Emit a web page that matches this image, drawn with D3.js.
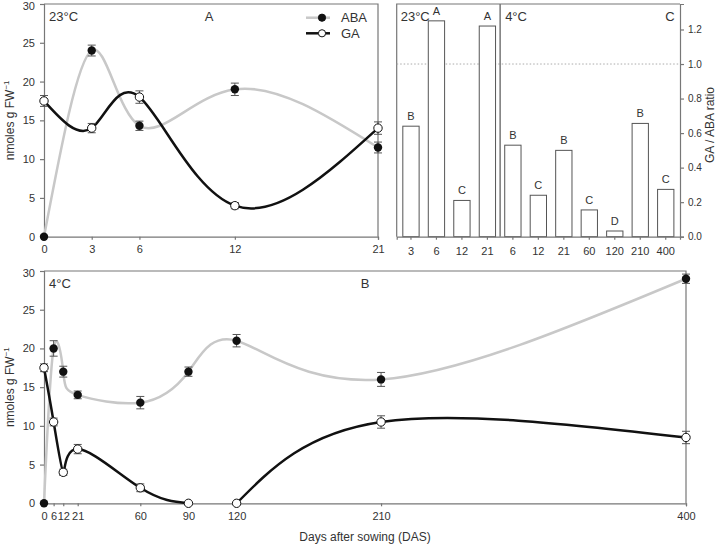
<!DOCTYPE html>
<html><head><meta charset="utf-8">
<script src="https://cdn.jsdelivr.net/npm/d3@7/dist/d3.min.js"></script>
<style>
body{margin:0;background:#fff;}
text{font-family:"Liberation Sans",Arial,sans-serif;fill:#333;}
</style></head>
<body><svg id="c" width="719" height="547"></svg>
<script>
// Panel A (23°C)
const daysA = [0, 3, 6, 12, 21];
const abaA = [0, 24, 14.3, 19, 11.5];
const abaAErr = [0, 0.7, 0.6, 0.8, 0.7];
const gaA = [17.5, 14, 18, 4, 14];
const gaAErr = [0.7, 0.6, 0.8, 0.4, 0.8];
const ticksA = [0, 3, 6, 12, 21];

// Panel B (4°C)
const daysB = [0, 6, 12, 21, 60, 90, 120, 210, 400];
const abaB = [0, 20, 17, 14, 13, 17, 21, 16, 29];
const abaBErr = [0, 1.0, 0.7, 0.5, 0.8, 0.6, 0.8, 0.9, 0.6];
const gaB = [17.5, 10.5, 4, 7, 2, 0, 0, 10.5, 8.5];
const gaBErr = [0.5, 0.5, 0.4, 0.6, 0.5, 0, 0, 0.8, 0.8];
const gaBSegments = [[0, 5], [6, 8]]; // index ranges of GA line pieces
const ticksB = [0, 6, 12, 21, 60, 90, 120, 210, 400];
const yTicksNmol = [0, 5, 10, 15, 20, 25, 30];

// Panel C (GA/ABA ratio)
const ratioCats = ["3", "6", "12", "21", "6 ", "12 ", "21 ", "60", "120", "210", "400"];
const ratioVals = [0.64, 1.25, 0.21, 1.22, 0.53, 0.24, 0.50, 0.155, 0.033, 0.656, 0.274];
const ratioLetters = ["B", "A", "C", "A", "B", "C", "B", "C", "D", "B", "C"];
const ratioTicks = [0, 0.2, 0.4, 0.6, 0.8, 1.0, 1.2];

const svg = d3.select("#c");
const axisCol = "#777", greyLine = "#c8c8c8";

function lineChart(g, o) {
  const x = d3.scaleLinear().domain(o.xdom).range(o.xr);
  const y = d3.scaleLinear().domain([0, 30]).range(o.yr);
  // frame top/right
  g.append("path").attr("d", `M${o.xr[0]},${o.yr[1]}H${o.xr[1]}V${o.yr[0]}`)
    .attr("fill", "none").attr("stroke", axisCol).attr("stroke-width", 1.2);
  const ax = g.append("g").attr("transform", `translate(0,${o.yr[0]})`)
    .call(d3.axisBottom(x).tickValues(o.xt).tickSize(3).tickPadding(6).tickFormat(d3.format("d")));
  const ay = g.append("g").attr("transform", `translate(${o.xr[0]},0)`)
    .call(d3.axisLeft(y).tickValues(yTicksNmol).tickSize(4).tickPadding(5));
  [ax, ay].forEach(a => {
    a.selectAll("path,line").attr("stroke", axisCol).attr("stroke-width", 1.2);
    a.selectAll("text").attr("font-size", 11).style("fill", "#333").attr("font-family", "Liberation Sans, Arial, sans-serif");
  });
  ay.selectAll(".tick").filter(d => d === 30).select("text").attr("dy", "0.5em");
  const line = d3.line().x(d => x(d[0])).y(d => y(d[1])).curve(d3.curveNatural);
  const abaPts = o.days.map((d, i) => [d, o.aba[i]]);
  g.append("path").attr("d", line(abaPts)).attr("fill", "none").attr("stroke", greyLine).attr("stroke-width", 2.5);
  o.gaSeg.forEach(s => {
    const pts = o.days.slice(s[0], s[1] + 1).map((d, k) => [d, o.ga[s[0] + k]]);
    g.append("path").attr("d", line(pts)).attr("fill", "none").attr("stroke", "#111").attr("stroke-width", 2.5);
  });
  function err(vals, errs) {
    o.days.forEach((d, i) => {
      if (!errs[i]) return;
      const cx = x(d), y1 = y(vals[i] - errs[i]), y2 = y(vals[i] + errs[i]);
      g.append("path").attr("d", `M${cx},${y1}V${y2}M${cx-4},${y1}H${cx+4}M${cx-4},${y2}H${cx+4}`)
        .attr("stroke", "#555").attr("stroke-width", 1).attr("fill", "none");
    });
  }
  err(o.aba, o.abaErr); err(o.ga, o.gaErr);
  g.selectAll(null).data(o.days).enter().append("circle")
    .attr("cx", d => x(d)).attr("cy", (d, i) => y(o.aba[i])).attr("r", 4.2).attr("fill", "#111");
  g.selectAll(null).data(o.days).enter().append("circle")
    .attr("cx", d => x(d)).attr("cy", (d, i) => y(o.ga[i])).attr("r", 4.2)
    .attr("fill", "#fff").attr("stroke", "#111").attr("stroke-width", 1);
  g.append("text").attr("x", o.xr[0] + 5).attr("y", o.yr[1] + 17).attr("font-size", 13).text(o.temp);
  g.append("text").attr("x", o.letterX).attr("y", o.yr[1] + 17).attr("font-size", 13).attr("text-anchor", "middle").text(o.letter);
  g.append("text").attr("transform", `translate(14,${(o.yr[0] + o.yr[1]) / 2}) rotate(-90)`)
    .attr("text-anchor", "middle").attr("font-size", 12)
    .text("nmoles g FW").append("tspan").attr("dy", -5).attr("font-size", 8).text("−1");
}

lineChart(svg.append("g"), {xdom: [0, 21], xr: [44, 378], yr: [236.7, 4], xt: ticksA,
  days: daysA, aba: abaA, abaErr: abaAErr, ga: gaA, gaErr: gaAErr, gaSeg: [[0, 4]],
  temp: "23°C", letter: "A", letterX: 209});
lineChart(svg.append("g"), {xdom: [0, 400], xr: [44, 686], yr: [503.3, 271], xt: ticksB,
  days: daysB, aba: abaB, abaErr: abaBErr, ga: gaB, gaErr: gaBErr, gaSeg: gaBSegments,
  temp: "4°C", letter: "B", letterX: 365});

svg.append("text").attr("x", 365).attr("y", 541).attr("text-anchor", "middle").attr("font-size", 12)
  .text("Days after sowing (DAS)");

// Legend
const lg = svg.append("g");
[["ABA", greyLine, "#111", 17.7], ["GA", "#111", "#fff", 33.3]].forEach(r => {
  lg.append("line").attr("x1", 306).attr("x2", 330).attr("y1", r[3]).attr("y2", r[3]).attr("stroke", r[1]).attr("stroke-width", 2.5);
  lg.append("circle").attr("cx", 322).attr("cy", r[3]).attr("r", 3.6).attr("fill", r[2]).attr("stroke", "#111").attr("stroke-width", 1);
  lg.append("text").attr("x", 341).attr("y", r[3] + 4.5).attr("font-size", 13).text(r[0]);
});

// Panel C
const gc = svg.append("g");
const cx0 = 396.7, cx1 = 680, cy0 = 236.7, cy1 = 4;
const xb = d3.scaleBand().domain(ratioCats).range([cx0, cx1]).paddingInner(0.36).paddingOuter(0.24);
const yc = d3.scaleLinear().domain([0, 1.3476]).range([cy0, cy1]);
gc.append("path").attr("d", `M${cx1},${cy1}H${cx0}V${cy0}`).attr("fill", "none").attr("stroke", axisCol).attr("stroke-width", 1.2);
gc.append("line").attr("x1", cx0).attr("x2", cx1).attr("y1", yc(1)).attr("y2", yc(1))
  .attr("stroke", "#aaa").attr("stroke-width", 1).attr("stroke-dasharray", "1.5,2");
const divX = (xb(ratioCats[3]) + xb.bandwidth() + xb(ratioCats[4])) / 2;
gc.append("line").attr("x1", divX).attr("x2", divX).attr("y1", cy1).attr("y2", cy0).attr("stroke", axisCol).attr("stroke-width", 1.5);
gc.selectAll(null).data(ratioVals).enter().append("rect")
  .attr("x", (d, i) => xb(ratioCats[i])).attr("width", xb.bandwidth())
  .attr("y", d => yc(d)).attr("height", d => cy0 - yc(d))
  .attr("fill", "#fff").attr("stroke", "#555").attr("stroke-width", 1);
gc.selectAll(null).data(ratioLetters).enter().append("text")
  .attr("x", (d, i) => xb(ratioCats[i]) + xb.bandwidth() / 2).attr("y", (d, i) => yc(ratioVals[i]) - 6)
  .attr("text-anchor", "middle").attr("font-size", 11).text(d => d);
const axc = gc.append("g").attr("transform", `translate(0,${cy0})`)
  .call(d3.axisBottom(xb).tickSize(3).tickPadding(8).tickFormat(d => d.trim()));
const ayc = gc.append("g").attr("transform", `translate(${cx1},0)`)
  .call(d3.axisRight(yc).tickValues(ratioTicks).tickSize(4).tickPadding(4).tickFormat(d3.format(".1f")));
[axc, ayc].forEach(a => {
  a.selectAll("path,line").attr("stroke", axisCol).attr("stroke-width", 1.2);
  a.selectAll("text").attr("font-family", "Liberation Sans, Arial, sans-serif").style("fill", "#333");
});
axc.selectAll("text").attr("font-size", 11);
ayc.selectAll("text").attr("font-size", 10);
gc.append("text").attr("x", cx0 + 4).attr("y", 21).attr("font-size", 13).text("23°C");
gc.append("text").attr("x", divX + 5).attr("y", 21).attr("font-size", 13).text("4°C");
gc.append("text").attr("x", 670).attr("y", 21).attr("font-size", 13).attr("text-anchor", "middle").text("C");
gc.append("text").attr("transform", `translate(714,125) rotate(-90)`).attr("text-anchor", "middle")
  .attr("font-size", 12).text("GA / ABA ratio");
</script></body></html>
